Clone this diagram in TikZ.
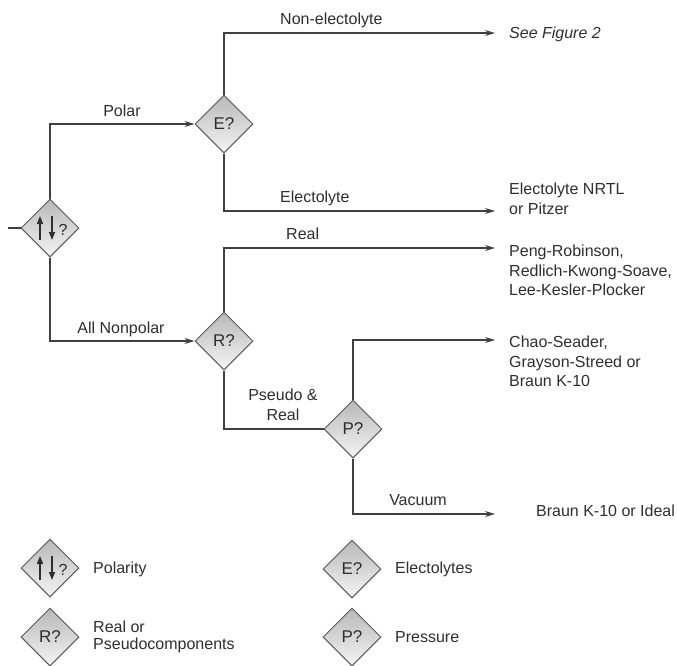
\documentclass[tikz,border=0pt]{standalone}
\usepackage{fontspec}
\setmainfont{Liberation Sans}
\usetikzlibrary{shapes.geometric,arrows.meta,calc}

\definecolor{linegray}{HTML}{404040}
\definecolor{textgray}{HTML}{2E2E2E}

% up/down arrows of the polarity check
\newcommand{\polsym}[1]{%
  \draw[symarrow] ($(#1)+(-10,12)$) -- ($(#1)+(-10,-12)$);
  \draw[symarrow] ($(#1)+(2,-12)$) -- ($(#1)+(2,12)$);
  \node[font=\fontsize{16}{16}\selectfont] (#1q) at ($(#1)+(13,2)$) {?};}

\begin{document}
\begin{tikzpicture}[x=1pt,y=-1pt,
  every node/.style={font=\fontsize{16}{19.5}\selectfont, text=textgray},
  check/.style={diamond, aspect=1, draw=black!65, line width=1pt, top color=black!28, bottom color=black!4,
    minimum width=58pt, minimum height=58pt, inner sep=0pt, font=\fontsize{17}{17}\selectfont},
  conn/.style={draw=linegray, line width=1.1pt},
  arr/.style={conn, -{Stealth[length=10pt,width=6pt]}},
  result/.style={anchor=north west, align=left, inner sep=0pt},
  lbl/.style={anchor=base, inner sep=0pt},
  symarrow/.style={draw=textgray, line width=1.5pt, -{Triangle[length=8pt,width=6pt]}}]
  \useasboundingbox (0,0) rectangle (677,665);

  % Checks
  \node[check] (pol) at (50,228) {};
  \polsym{pol}
  \node[check] (E) at (224,124) {E?};
  \node[check] (R) at (224,341) {R?};
  \node[check] (P) at (353,429) {P?};

  % Arrow ends
  \coordinate (in) at (8,228);
  \coordinate (t1) at (495,33);
  \coordinate (t2) at (495,211);
  \coordinate (t3) at (495,248);
  \coordinate (t4) at (495,340);
  \coordinate (t5) at (495,514);

  % Connectors
  \draw[conn] (in) -- (pol.west);
  \draw[arr] (pol.north) |- (E.west);
  \draw[arr] (pol.south) |- (R.west);
  \draw[arr] (E.north) |- (t1);
  \draw[arr] (E.south) |- (t2);
  \draw[arr] (R.north) |- (t3);
  \draw[conn] (R.south) |- (P.west);
  \draw[arr] (P.north) |- (t4);
  \draw[arr] (P.south) |- (t5);

  % Branch labels
  \node[lbl] (polar) at (122,116) {Polar};
  \node[lbl] (nonpolar) at (121,333) {All Nonpolar};
  \node[lbl, anchor=base west] (nonel) at (280,24) {Non-electolyte};
  \node[lbl, anchor=base west] (el) at (280,202) {Electolyte};
  \node[lbl, anchor=base west] (real) at (286,239) {Real};
  \node[lbl, anchor=north, align=center] (pseudo) at (283,389) {Pseudo \&\\Real};
  \node[lbl] (vac) at (418,505) {Vacuum};

  % Results
  \node[result] (fig2) at ($(t1)+(14,-6)$) {\itshape See Figure 2};
  \node[result] (nrtl) at ($(t2)+(14,-28)$) {Electolyte NRTL\\or Pitzer};
  \node[result] (peng) at ($(t3)+(14,-3)$) {Peng-Robinson,\\Redlich-Kwong-Soave,\\Lee-Kesler-Plocker};
  \node[result] (chao) at ($(t4)+(14,-4)$) {Chao-Seader,\\Grayson-Streed or\\Braun K-10};
  \node[result, anchor=west] (ideal) at ($(t5)+(41,-3)$) {Braun K-10 or Ideal};

  % Legend
  \node[check] (lpol) at (50,568) {};
  \polsym{lpol}
  \node[check] (lR) at (50,637) {R?};
  \node[check] (lE) at (352,569) {E?};
  \node[check] (lP) at (352,637) {P?};
  \node[anchor=west, inner sep=0pt] (tpol) at (93,569) {Polarity};
  \node[anchor=west, inner sep=0pt, align=left, font=\fontsize{16}{17}\selectfont] (tR) at (93,637) {Real or\\Pseudocomponents};
  \node[anchor=west, inner sep=0pt] (tE) at (395,569) {Electolytes};
  \node[anchor=west, inner sep=0pt] (tP) at (395,637) {Pressure};
\end{tikzpicture}
\end{document}
